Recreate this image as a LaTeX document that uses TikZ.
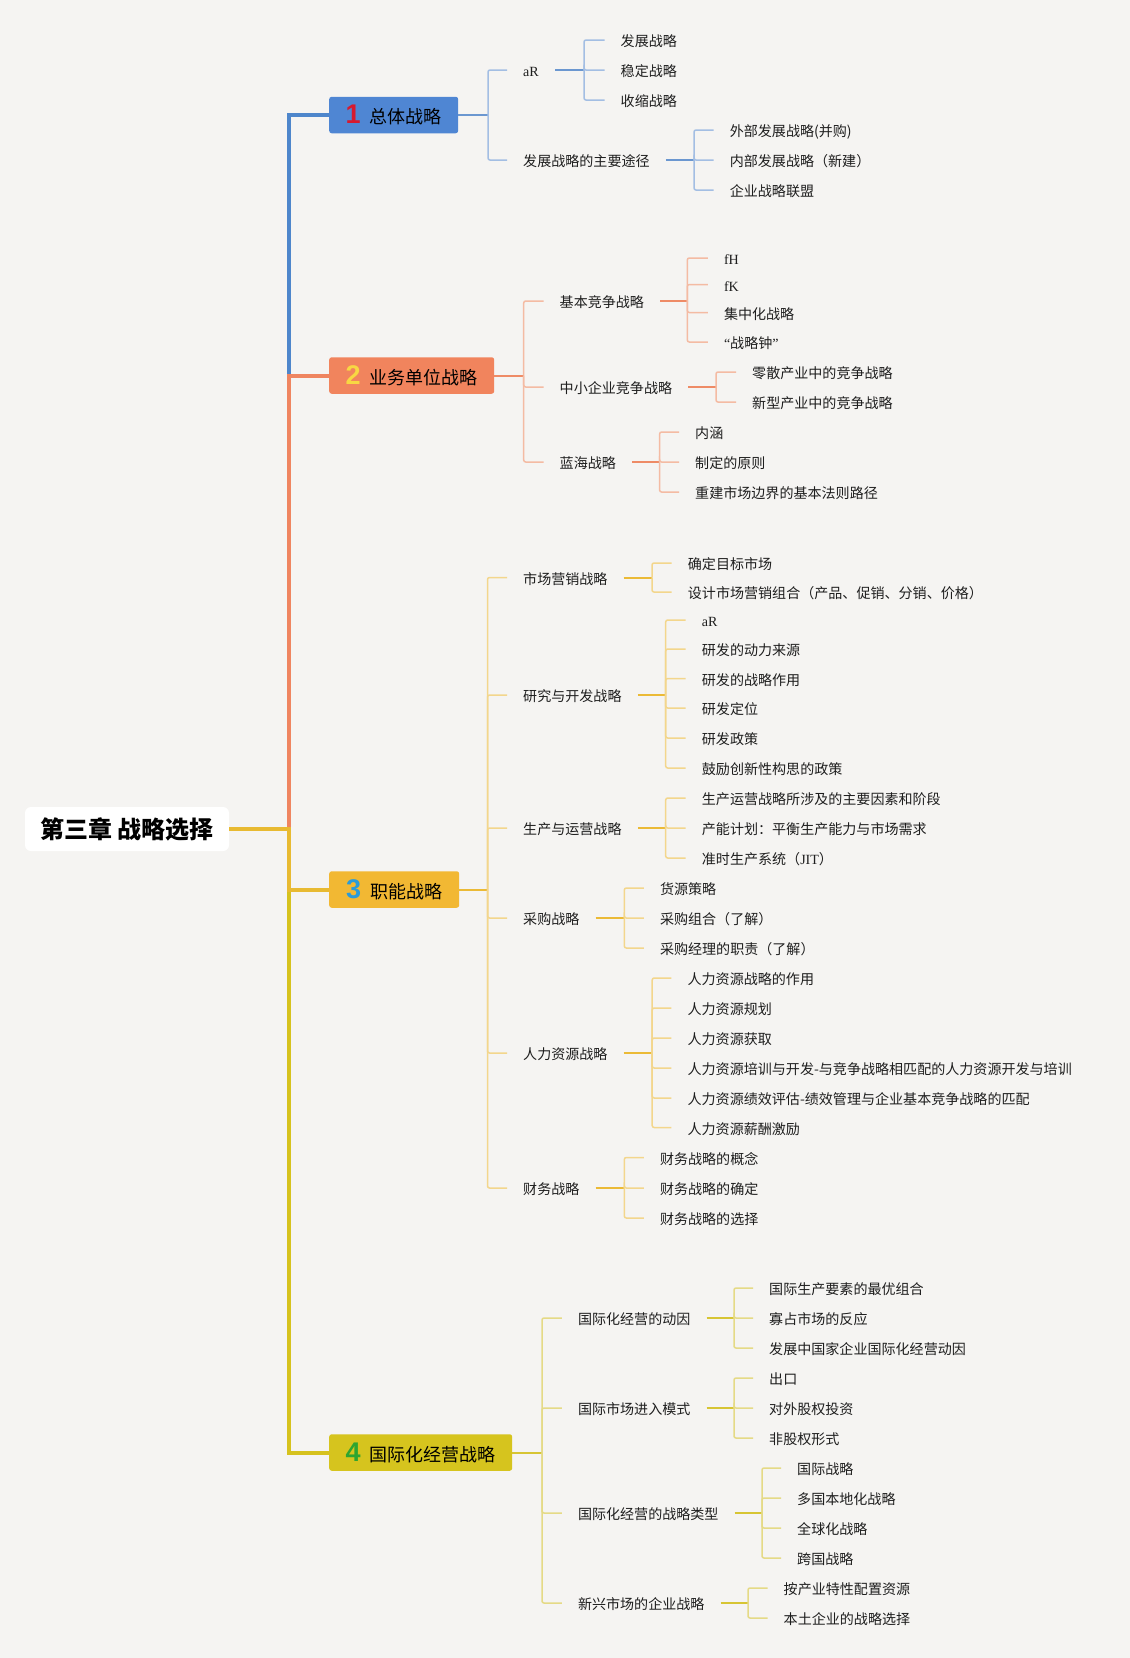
\documentclass[tikz,border=0pt]{standalone}
\usepackage{fontspec}
\setmainfont{Noto Sans CJK SC}
\newfontfamily\romfont{Liberation Serif}
\newfontfamily\numfont{Liberation Sans}
\definecolor{bgcol}{HTML}{F5F4F2}
\definecolor{blueT}{HTML}{4E86CB}
\definecolor{blueB}{HTML}{4F86D3}
\definecolor{blueM}{HTML}{6B97D0}
\definecolor{blueL}{HTML}{A3BEE3}
\definecolor{oraT}{HTML}{EF8560}
\definecolor{oraB}{HTML}{F1845D}
\definecolor{oraM}{HTML}{EE8B66}
\definecolor{oraL}{HTML}{F4BBA3}
\definecolor{yelT}{HTML}{E8BA32}
\definecolor{yelB}{HTML}{F2B833}
\definecolor{yelM}{HTML}{EBBA36}
\definecolor{yelL}{HTML}{F3D68C}
\definecolor{oliT}{HTML}{D6C21E}
\definecolor{oliB}{HTML}{D6C41E}
\definecolor{oliM}{HTML}{D7C534}
\definecolor{oliL}{HTML}{E5DA86}
\definecolor{numRed}{HTML}{D7192E}
\definecolor{numYel}{HTML}{F8D743}
\definecolor{numBlu}{HTML}{2B9BD8}
\definecolor{numGrn}{HTML}{2EA530}
\definecolor{txt}{HTML}{1E1E1E}
\newcommand{\branchlabel}[3]{{\numfont\bfseries\fontsize{27pt}{27pt}\selectfont\color{#1}#2}\hspace{9pt}#3}
\tikzset{
  rootbox/.style={fill=white, rounded corners=6pt, minimum width=204pt, minimum height=44pt, inner sep=0pt, font=\fontsize{24pt}{27pt}\selectfont\bfseries, text=black},
  topic/.style={anchor=west, minimum height=36.5pt, inner sep=0pt, rounded corners=2.5pt, font=\fontsize{18pt}{20pt}\selectfont, text=black},
  leaf/.style={anchor=west, inner xsep=16pt, inner ysep=2pt, text height=13pt, text depth=0pt, font=\fontsize{14.05pt}{16pt}\selectfont, text=txt},
  trunk/.style={line width=4pt},
  stub/.style={line width=2pt},
  twig/.style={line width=1.5pt, rounded corners=2pt}
}
\begin{document}
\begin{tikzpicture}[x=1pt,y=-1pt]
\fill[bgcol] (0,0) rectangle (1130,1658);
\useasboundingbox (0,0) rectangle (1130,1658);

% root and main branches
\node[rootbox] (root) at (127,829) {第三章 战略选择};
\node[topic, fill=blueB, minimum width=129pt] (zt) at (329,115) {\branchlabel{numRed}{1}{总体战略}};
\node[topic, fill=oraB, minimum width=165pt] (yw) at (329,375.5) {\branchlabel{numYel}{2}{业务单位战略}};
\node[topic, fill=yelB, minimum width=130pt] (zn) at (329,889.5) {\branchlabel{numBlu}{3}{职能战略}};
\node[topic, fill=oliB, minimum width=183pt] (gj) at (329,1452.5) {\branchlabel{numGrn}{4}{国际化经营战略}};

\coordinate (hub) at (288.5,829);
\draw[trunk,blueT] (root.east) -- (hub) |- (zt.west);
\draw[trunk,oliT] (root.east) -- (hub) |- (gj.west);
\draw[trunk,oraT] (root.east) -- (hub) |- (yw.west);
\draw[trunk,yelT] (root.east) -- (hub) |- (zn.west);

% 1 总体战略
\draw[stub,blueM] (zt.east) -- (488,115) coordinate (zt-k);
\node[leaf] (zt-1) at (507,70) {{\romfont aR}};
\node[leaf] (zt-2) at (507,160) {发展战略的主要途径};
\foreach \i in {1,2} \draw[twig,blueL] (zt-k) |- (zt-\i.west);
\draw[stub,blueM] (zt-1.east) -- (584,70) coordinate (zt-1k);
\foreach \t/\y [count=\i] in {发展战略/40,稳定战略/70,收缩战略/100}{
  \node[leaf] (zt-1-\i) at (604.5,\y) {\t};
  \draw[twig,blueL] (zt-1k) |- (zt-1-\i.west);
}
\draw[stub,blueM] (zt-2.east) -- (694,160) coordinate (zt-2k);
\foreach \t/\y [count=\i] in {外部发展战略(并购)/130,内部发展战略（新建）/160,企业战略联盟/190}{
  \node[leaf] (zt-2-\i) at (713.6,\y) {\t};
  \draw[twig,blueL] (zt-2k) |- (zt-2-\i.west);
}

% 2 业务单位战略
\draw[stub,oraM] (yw.east) -- (523.7,375.5) coordinate (yw-k);
\node[leaf] (yw-1) at (543.5,301) {基本竞争战略};
\node[leaf] (yw-2) at (543.5,387) {中小企业竞争战略};
\node[leaf] (yw-3) at (543.5,462) {蓝海战略};
\foreach \i in {1,2,3} \draw[twig,oraL] (yw-k) |- (yw-\i.west);
\draw[stub,oraM] (yw-1.east) -- (687.3,301) coordinate (yw-1k);
\foreach \t/\y [count=\i] in {{\romfont fH}/258,{\romfont fK}/284.5,集中化战略/312.5,{\romfont “}战略钟{\romfont ”}/342}{
  \node[leaf] (yw-1-\i) at (707.8,\y) {\t};
  \draw[twig,oraL] (yw-1k) |- (yw-1-\i.west);
}
\draw[stub,oraM] (yw-2.east) -- (716,387) coordinate (yw-2k);
\foreach \t/\y [count=\i] in {零散产业中的竞争战略/372,新型产业中的竞争战略/402}{
  \node[leaf] (yw-2-\i) at (736,\y) {\t};
  \draw[twig,oraL] (yw-2k) |- (yw-2-\i.west);
}
\draw[stub,oraM] (yw-3.east) -- (659.6,462) coordinate (yw-3k);
\foreach \t/\y [count=\i] in {内涵/432,制定的原则/462,重建市场边界的基本法则路径/492}{
  \node[leaf] (yw-3-\i) at (679,\y) {\t};
  \draw[twig,oraL] (yw-3k) |- (yw-3-\i.west);
}

% 3 职能战略
\draw[stub,yelM] (zn.east) -- (487.5,889.5) coordinate (zn-k);
\foreach \t/\y [count=\i] in {市场营销战略/577.5,研究与开发战略/695,生产与运营战略/828,采购战略/918,人力资源战略/1053,财务战略/1188}{
  \node[leaf] (zn-\i) at (507,\y) {\t};
  \draw[twig,yelL] (zn-k) |- (zn-\i.west);
}
\draw[stub,yelM] (zn-1.east) -- (652,577.5) coordinate (zn-1k);
\foreach \t/\y [count=\i] in {确定目标市场/563,设计市场营销组合（产品、促销、分销、价格）/592}{
  \node[leaf] (zn-1-\i) at (671.7,\y) {\t};
  \draw[twig,yelL] (zn-1k) |- (zn-1-\i.west);
}
\draw[stub,yelM] (zn-2.east) -- (665.7,695) coordinate (zn-2k);
\foreach \t/\y [count=\i] in {{\romfont aR}/620,研发的动力来源/649,研发的战略作用/678.5,研发定位/708,研发政策/738,鼓励创新性构思的政策/768}{
  \node[leaf] (zn-2-\i) at (685.7,\y) {\t};
  \draw[twig,yelL] (zn-2k) |- (zn-2-\i.west);
}
\draw[stub,yelM] (zn-3.east) -- (665.7,828) coordinate (zn-3k);
\foreach \t/\y [count=\i] in {生产运营战略所涉及的主要因素和阶段/798,产能计划：平衡生产能力与市场需求/828,准时生产系统（{\romfont JIT}）/858}{
  \node[leaf] (zn-3-\i) at (685.7,\y) {\t};
  \draw[twig,yelL] (zn-3k) |- (zn-3-\i.west);
}
\draw[stub,yelM] (zn-4.east) -- (624.3,918) coordinate (zn-4k);
\foreach \t/\y [count=\i] in {货源策略/888,采购组合（了解）/918,采购经理的职责（了解）/948}{
  \node[leaf] (zn-4-\i) at (643.8,\y) {\t};
  \draw[twig,yelL] (zn-4k) |- (zn-4-\i.west);
}
\draw[stub,yelM] (zn-5.east) -- (652.2,1053) coordinate (zn-5k);
\foreach \t/\y [count=\i] in {人力资源战略的作用/978,人力资源规划/1008,人力资源获取/1038,人力资源培训与开发-与竞争战略相匹配的人力资源开发与培训/1068,人力资源绩效评估-绩效管理与企业基本竞争战略的匹配/1098,人力资源薪酬激励/1127.5}{
  \node[leaf] (zn-5-\i) at (671.4,\y) {\t};
  \draw[twig,yelL] (zn-5k) |- (zn-5-\i.west);
}
\draw[stub,yelM] (zn-6.east) -- (624.3,1188) coordinate (zn-6k);
\foreach \t/\y [count=\i] in {财务战略的概念/1157.5,财务战略的确定/1188,财务战略的选择/1218}{
  \node[leaf] (zn-6-\i) at (643.8,\y) {\t};
  \draw[twig,yelL] (zn-6k) |- (zn-6-\i.west);
}

% 4 国际化经营战略
\draw[stub,oliM] (gj.east) -- (542,1452.5) coordinate (gj-k);
\foreach \t/\y [count=\i] in {国际化经营的动因/1318,国际市场进入模式/1408,国际化经营的战略类型/1513,新兴市场的企业战略/1603}{
  \node[leaf] (gj-\i) at (561.8,\y) {\t};
  \draw[twig,oliL] (gj-k) |- (gj-\i.west);
}
\draw[stub,oliM] (gj-1.east) -- (734,1318) coordinate (gj-1k);
\foreach \t/\y [count=\i] in {国际生产要素的最优组合/1288,寡占市场的反应/1318,发展中国家企业国际化经营动因/1348}{
  \node[leaf] (gj-1-\i) at (753,\y) {\t};
  \draw[twig,oliL] (gj-1k) |- (gj-1-\i.west);
}
\draw[stub,oliM] (gj-2.east) -- (734,1408) coordinate (gj-2k);
\foreach \t/\y [count=\i] in {出口/1378,对外股权投资/1408,非股权形式/1438}{
  \node[leaf] (gj-2-\i) at (753,\y) {\t};
  \draw[twig,oliL] (gj-2k) |- (gj-2-\i.west);
}
\draw[stub,oliM] (gj-3.east) -- (762,1513) coordinate (gj-3k);
\foreach \t/\y [count=\i] in {国际战略/1468,多国本地化战略/1498,全球化战略/1528,跨国战略/1558}{
  \node[leaf] (gj-3-\i) at (781,\y) {\t};
  \draw[twig,oliL] (gj-3k) |- (gj-3-\i.west);
}
\draw[stub,oliM] (gj-4.east) -- (748,1603) coordinate (gj-4k);
\foreach \t/\y [count=\i] in {按产业特性配置资源/1588,本土企业的战略选择/1618}{
  \node[leaf] (gj-4-\i) at (767.5,\y) {\t};
  \draw[twig,oliL] (gj-4k) |- (gj-4-\i.west);
}
\end{tikzpicture}
\end{document}
